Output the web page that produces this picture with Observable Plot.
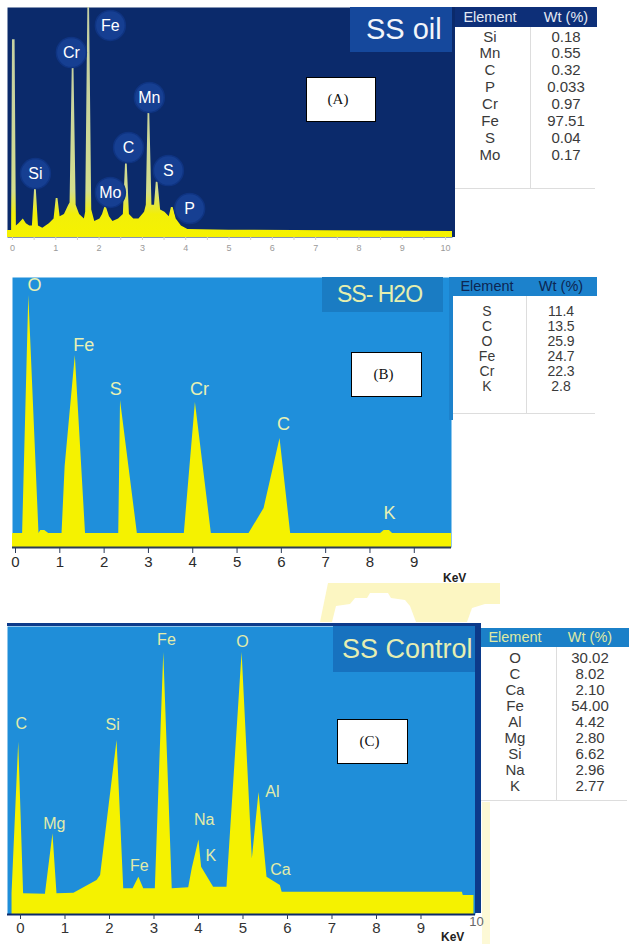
<!DOCTYPE html>
<html><head><meta charset="utf-8">
<script src="https://cdn.jsdelivr.net/npm/d3@7"></script>
<script src="https://cdn.jsdelivr.net/npm/@observablehq/plot@0.6"></script>
<style>
body{margin:0;background:#fff;font-family:"Liberation Sans",Arial,sans-serif;}
#page{position:relative;width:629px;height:944px;overflow:hidden;background:#fff;}
.box{position:absolute;box-sizing:border-box;overflow:hidden;}
.lab{position:absolute;background:#fff;border:1px solid #000;box-sizing:border-box;font-family:"Liberation Serif","Times New Roman",serif;font-size:15px;color:#111;display:flex;align-items:center;justify-content:center;padding-right:6px;}
.title{position:absolute;box-sizing:border-box;overflow:hidden;white-space:nowrap;display:flex;align-items:center;}
.tbl{position:absolute;box-sizing:border-box;font-size:15px;color:#3a3a3a;}
.tbl .hd{position:absolute;left:0;top:0;right:0;font-size:14.5px;white-space:nowrap;}
.tbl .c{position:absolute;text-align:center;white-space:nowrap;}
</style></head><body><div id="page"></div>
<script>
// ---------- data ----------
// spectrum (A) SS oil : [keV, counts]
const specA = [[-0.12,3],[-0.02,3],[0.0,86],[0.06,86],[0.09,5],[0.15,6],[0.25,8],[0.32,6],[0.40,5],[0.46,5],[0.51,21],[0.55,21],[0.60,5],[0.70,4],[0.85,6],[0.96,8],[1.01,17],[1.05,17],[1.10,9],[1.20,10],[1.30,14],[1.33,15],[1.38,74],[1.42,74],[1.47,14],[1.55,10],[1.66,8],[1.69,11],[1.74,100],[1.78,100],[1.83,12],[1.90,7],[2.02,8],[2.08,10],[2.13,13],[2.17,13],[2.24,9],[2.32,7],[2.45,8],[2.56,10],[2.61,32],[2.65,32],[2.70,10],[2.80,8],[2.92,8],[3.05,11],[3.09,14],[3.13,54],[3.17,54],[3.22,14],[3.28,14],[3.32,24],[3.36,24],[3.42,12],[3.52,11],[3.62,9],[3.67,13],[3.71,13],[3.78,8],[3.90,5],[4.05,3.5],[5.0,3.2],[6.5,3],[8.0,2.8],[10.16,2.6]];
const labelNamesA = ["Si","Cr","Fe","Mn","C","Mo","S","P"];
const labelKeVA   = [0.53,1.36,2.26,3.16,2.68,2.26,3.60,4.09];
const labelCntA   = [27.8,80.4,92.2,60.9,39.1,19.6,29.1,12.6];
const ticksA = [0,1,2,3,4,5,6,7,8,9,10];
const minorTicksA = [0,0.5,1,1.5,2,2.5,3,3.5,4,4.5,5,5.5,6,6.5,7,7.5,8,8.5,9,9.5,10];
const elemA = ["Si","Mn","C","P","Cr","Fe","S","Mo"];
const wtA   = [0.18,0.55,0.32,0.033,0.97,97.51,0.04,0.17];

// spectrum (B) SS-H2O
const specB = [[-0.07,5.2],[0.16,5.2],[0.30,93.3],[0.53,5.2],[0.57,6.3],[0.66,6.3],[0.75,5.2],[1.05,5.2],[1.12,30],[1.35,71.1],[1.58,5.2],[2.33,5.2],[2.37,54.4],[2.75,5.2],[3.81,5.2],[4.06,53.7],[4.42,5.2],[5.27,5.2],[5.61,14.4],[5.97,40.4],[6.21,5.2],[8.24,5.2],[8.32,6.3],[8.44,6.3],[8.51,5.2],[9.84,5.2]];
const labelNamesB = ["O","Fe","S","Cr","C","K"];
const labelKeVB   = [0.43,1.54,2.26,4.15,6.05,8.44];
const labelCntB   = [97,74.8,58.5,58.5,45.6,12.6];
const ticksB = [0,1,2,3,4,5,6,7,8,9];
const elemB = ["S","C","O","Fe","Cr","K"];
const wtB   = [11.4,13.5,25.9,24.7,22.3,2.8];

// spectrum (C) SS Control
const specC = [[-0.19,7.2],[-0.04,59.8],[0.07,7.2],[0.56,7.0],[0.73,28],[0.82,7.2],[1.20,7.4],[1.72,11.8],[1.80,13.5],[2.17,60.4],[2.32,8.9],[2.53,8.9],[2.66,12.9],[2.77,8.9],[3.03,8.9],[3.22,91],[3.41,8.9],[3.78,9.3],[3.86,16],[4.01,25.9],[4.07,16.4],[4.34,9.5],[4.64,9.5],[4.98,91],[5.21,19.3],[5.36,42.4],[5.54,12.9],[5.84,10.1],[5.88,7.7],[9.93,7.7],[9.95,6.6],[10.19,6.6]];
const labelNamesC = ["C","Mg","Si","Fe","Fe","O","Na","K","Al","Ca"];
const labelKeVC   = [0.02,0.76,2.07,2.67,3.28,4.99,4.13,4.28,5.66,5.84];
const labelCntC   = [66.3,31.3,66,17,95.5,94.8,33,20.5,42.7,15.6];
const ticksC = [0,1,2,3,4,5,6,7,8,9];
const lastTickC = [10];
const elemC = ["O","C","Ca","Fe","Al","Mg","Si","Na","K"];
const wtC   = [30.02,8.02,2.10,54.00,4.42,2.80,6.62,2.96,2.77];

// ---------- helpers ----------
const FONT = '"Liberation Sans", Arial, sans-serif';
const NS = "http://www.w3.org/2000/svg";
const page = document.getElementById("page");
const labels = (n, k, c) => n.map((name, i) => ({name, keV: k[i], counts: c[i]}));
function put(el, left, top, z) {
  el.style.position = "absolute"; el.style.left = left + "px"; el.style.top = top + "px";
  if (z != null) el.style.zIndex = z;
  page.appendChild(el); return el;
}
function div(cls, left, top, w, h, css, html) {
  const d = document.createElement("div");
  d.className = cls; d.style.cssText = css || "";
  d.style.left = left + "px"; d.style.top = top + "px";
  if (w != null) d.style.width = w + "px";
  if (h != null) d.style.height = h + "px";
  if (html != null) d.textContent = html;
  d.style.position = "absolute";
  page.appendChild(d); return d;
}
function addGradient(svg, id, y1, y2, stops) {
  const defs = document.createElementNS(NS, "defs");
  const g = document.createElementNS(NS, "linearGradient");
  g.setAttribute("id", id); g.setAttribute("gradientUnits", "userSpaceOnUse");
  g.setAttribute("x1", 0); g.setAttribute("x2", 0); g.setAttribute("y1", y1); g.setAttribute("y2", y2);
  for (const [o, c] of stops) {
    const s = document.createElementNS(NS, "stop");
    s.setAttribute("offset", o); s.setAttribute("stop-color", c); g.appendChild(s);
  }
  defs.appendChild(g); svg.insertBefore(defs, svg.firstChild);
}
function table({left, top, width, height, divX, headH, headBg, headColor, headElX, headWtX, rowTop, rowH, elems, vals, fmt, lineBottom, lineColor, fontSize}) {
  const t = div("tbl", left, top, width, height, "background:#fff;");
  if (fontSize) t.style.fontSize = fontSize + "px";
  const hd = document.createElement("div"); hd.className = "hd";
  hd.style.height = headH + "px"; hd.style.background = headBg; hd.style.color = headColor;
  t.appendChild(hd);
  const mk = (parent, txt, cx, y, h, color) => {
    const c = document.createElement("div"); c.className = "c"; c.textContent = txt;
    c.style.left = (cx - 40) + "px"; c.style.width = "80px"; c.style.top = y + "px";
    c.style.height = h + "px"; c.style.lineHeight = h + "px"; if (color) c.style.color = color; parent.appendChild(c);
  };
  mk(hd, "Element", headElX, 0, headH); mk(hd, "Wt (%)", headWtX, 0, headH);
  const vline = document.createElement("div");
  vline.style.cssText = `position:absolute;left:${divX}px;top:${headH}px;width:1px;height:${lineBottom - headH}px;background:${lineColor};`;
  t.appendChild(vline);
  const hline = document.createElement("div");
  hline.style.cssText = `position:absolute;left:0;top:${lineBottom}px;width:${width - 2}px;height:1px;background:${lineColor};`;
  t.appendChild(hline);
  elems.forEach((e, i) => {
    mk(t, e, headElX, rowTop + i * rowH, rowH);
    mk(t, fmt(vals[i]), headWtX, rowTop + i * rowH, rowH);
  });
  return t;
}

// ---------- watermark ----------
const wm = document.createElementNS(NS, "svg");
wm.setAttribute("width", 200); wm.setAttribute("height", 50);
wm.innerHTML = '<polygon points="20,47 28,8 200,8 200,47" fill="#fcf6c2"/>' +
  '<polygon points="32,47 36,31 50,29 55,23 67,23 70,18 88,18 91,23 105,25 110,31 116,47" fill="#ffffff"/>' +
  '<polygon points="167,47 172,33 185,29 200,29 200,47" fill="#ffffff"/>';
put(wm, 300, 575, 0);

// ---------- panel A ----------
const plotA = Plot.plot({
  width: 455, height: 258, marginTop: 7, marginBottom: 21, marginLeft: 7, marginRight: 3,
  style: {background: "transparent", fontFamily: FONT, overflow: "visible"},
  x: {domain: [-0.115, 10.16], label: null},
  y: {domain: [0, 100], axis: null},
  marks: [
    Plot.frame({fill: "#0b2a6b", stroke: "none"}),
    Plot.areaY(specA, {x: d => d[0], y: d => d[1], fill: "url(#gradA)", clip: true}),
    Plot.axisX({ticks: minorTicksA, tickSize: 3, tickFormat: () => "", stroke: "#cfcfcf"}),
    Plot.axisX({ticks: ticksA, tickSize: 0, tickPadding: 7, fontSize: 9, fill: "#9a9a9a", tickFormat: d => d}),
    Plot.dot(labels(labelNamesA, labelKeVA, labelCntA), {x: "keV", y: "counts", r: 15, fill: "#163f92", stroke: "#0f3482"}),
    Plot.text(labels(labelNamesA, labelKeVA, labelCntA), {x: "keV", y: "counts", text: "name", fill: "#ffffff", fontSize: 16})
  ]
});
addGradient(plotA, "gradA", 237, 7, [[0, "#f6f200"], [0.1, "#f2ef08"], [0.2, "#d4de8c"], [0.6, "#c9d49e"], [1, "#c4cfa4"]]);
put(plotA, 0, 0, 1);
div("box", 452, 7, 3, 230, "background:#0b2a6b;z-index:2;");
div("title", 350, 7, 102, 45, "background:#15489c;color:#f2f5fa;font-size:29px;padding-left:16px;z-index:3;", "SS oil");
div("lab", 306, 77, 70, 45, "z-index:3;", "(A)");
table({left: 455, top: 7, width: 142, height: 183, divX: 75, headH: 20, headBg: "#0d2f78", headColor: "#e3e9f4",
  headElX: 35, headWtX: 111, rowTop: 21.5, rowH: 16.9, elems: elemA, vals: wtA, fmt: v => String(v), lineBottom: 181, lineColor: "#dddddd"}).style.zIndex = 3;

// ---------- panel B ----------
const plotB = Plot.plot({
  width: 460, height: 310, marginTop: 7, marginBottom: 33, marginLeft: 12, marginRight: 9,
  style: {background: "transparent", fontFamily: FONT, overflow: "visible"},
  x: {domain: [-0.068, 9.84], label: null},
  y: {domain: [0, 100], axis: null},
  marks: [
    Plot.frame({fill: "#1f8fdb", stroke: "none"}),
    Plot.areaY(specB, {x: d => d[0], y: d => d[1], fill: "#f5f200", clip: true}),
    Plot.ruleY([0], {stroke: "#2b3b58", strokeWidth: 2}),
    Plot.axisX({ticks: ticksB, tickSize: 6, tickPadding: 3, fontSize: 15, fill: "#2a2a2a", stroke: "#2b3b58", tickFormat: d => d}),
    Plot.text(labels(labelNamesB, labelKeVB, labelCntB), {x: "keV", y: "counts", text: "name", fill: "#e8f1b4", fontSize: 18})
  ]
});
put(plotB, 0, 270, 1);
div("title", 322, 277, 121, 35, "background:#1a7cc3;color:#e6efae;font-size:23px;letter-spacing:-1px;padding-left:15px;z-index:3;", "SS- H2O");
div("lab", 351, 352, 71, 45, "z-index:3;", "(B)");
div("box", 449, 277, 4, 143, "background:#1c82cc;z-index:2;");
table({left: 453, top: 277, width: 144, height: 138, divX: 73, headH: 19, headBg: "#1c82cc", headColor: "#0d2652",
  headElX: 34, headWtX: 108, rowTop: 26.5, rowH: 15, elems: elemB, vals: wtB, fmt: v => v.toFixed(1), lineBottom: 136, lineColor: "#dddddd", fontSize: 14}).style.zIndex = 3;
div("box", 443, 571, 40, 14, "font-weight:bold;font-size:12px;color:#222;z-index:3;overflow:visible;", "KeV");

// ---------- panel C ----------
const plotC = Plot.plot({
  width: 490, height: 329, marginTop: 11, marginBottom: 30, marginLeft: 7, marginRight: 15,
  style: {background: "transparent", fontFamily: FONT, overflow: "visible"},
  x: {domain: [-0.292, 10.225], label: null},
  y: {domain: [0, 100], axis: null},
  marks: [
    Plot.frame({fill: "#1f8ed9", stroke: "none"}),
    Plot.areaY(specC, {x: d => d[0], y: d => d[1], fill: "#f5f200", clip: true}),
    Plot.ruleY([0], {stroke: "#0c2a68", strokeWidth: 2}),
    Plot.axisX({ticks: ticksC, tickSize: 5, tickPadding: 3, fontSize: 15, fill: "#333333", stroke: "#2b3b58", tickFormat: d => d}),
    Plot.axisX({ticks: lastTickC, tickSize: 0, tickPadding: 0, dx: 11, dy: 2, fontSize: 13, fill: "#666666", tickFormat: d => d}),
    Plot.text(labels(labelNamesC, labelKeVC, labelCntC), {x: "keV", y: "counts", text: "name", fill: "#e2ecaa", fontSize: 16})
  ]
});
put(plotC, 0, 615, 1);
div("box", 7, 623, 474, 3, "background:#0c3a8a;z-index:2;");
div("box", 475, 623, 6, 290, "background:#0c3a8a;z-index:2;");
div("box", 482, 800, 8, 144, "background:#fdf9d6;z-index:0;");
div("title", 333, 626, 142, 46, "background:#1772bf;color:#e6eeb2;font-size:27px;padding-left:9px;z-index:3;", "SS Control");
div("lab", 337, 719, 71, 45, "z-index:3;", "(C)");
table({left: 481, top: 628, width: 148, height: 174, divX: 75, headH: 19, headBg: "#1b80c8", headColor: "#dfe9a4",
  headElX: 34, headWtX: 109, rowTop: 22, rowH: 16, elems: elemC, vals: wtC, fmt: v => v.toFixed(2), lineBottom: 172, lineColor: "#dddddd"}).style.zIndex = 3;
div("box", 441, 930, 40, 14, "font-weight:bold;font-size:12px;color:#222;z-index:3;overflow:visible;", "KeV");
</script>
</body></html>
